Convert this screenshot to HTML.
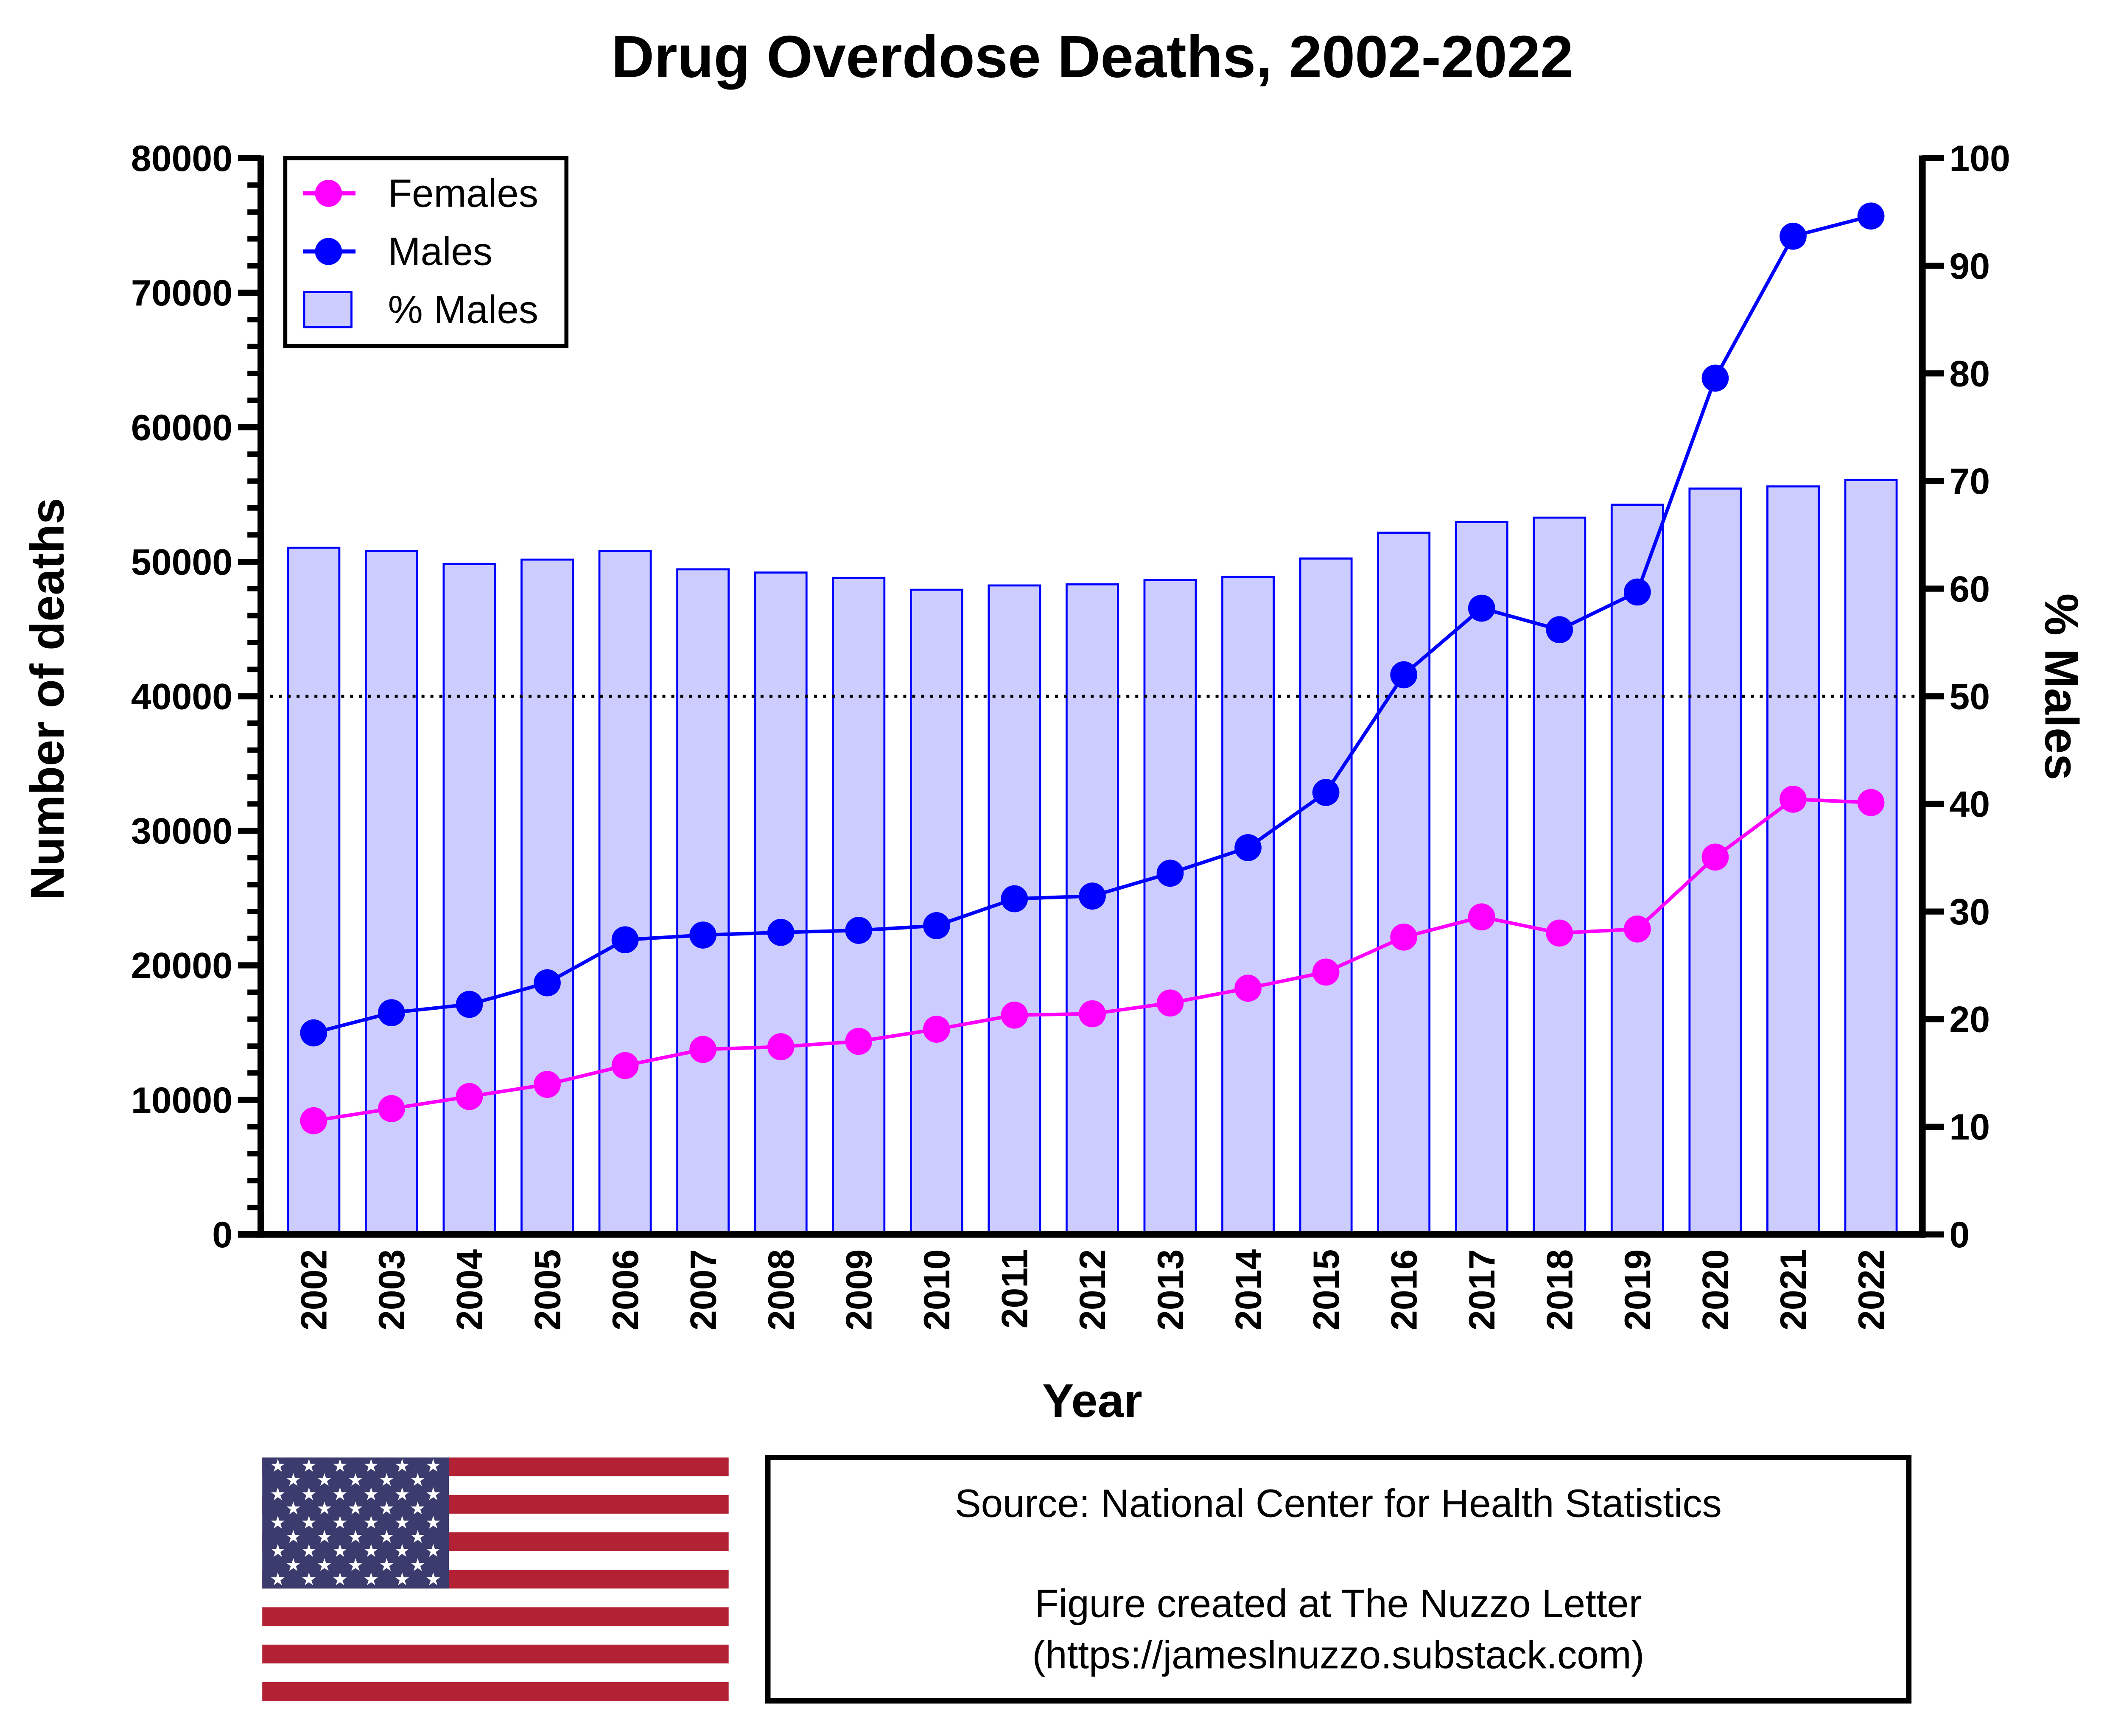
<!DOCTYPE html>
<html><head><meta charset="utf-8"><style>
html,body{margin:0;padding:0;background:#fff;}
svg{display:block;font-family:"Liberation Sans",Arial,sans-serif;}
</style></head><body>
<svg id="chart" width="5067" height="4092" viewBox="0 0 1590 1284" preserveAspectRatio="none" xmlns="http://www.w3.org/2000/svg">
<rect x="0" y="0" width="1590" height="1284" fill="#fff"/>
<text x="808" y="57" text-anchor="middle" font-size="44" font-weight="bold">Drug Overdose Deaths, 2002-2022</text>
<g id="bars"></g>
<line x1="193" y1="515" x2="1422" y2="515" stroke="#000" stroke-width="2.2" stroke-dasharray="2.2,4.4"/>
<g id="lines"></g>
<g id="axes"></g>
<text transform="translate(47,517) rotate(-90)" text-anchor="middle" font-size="35" font-weight="bold">Number of deaths</text>
<text transform="translate(1513,508) rotate(90)" text-anchor="middle" font-size="35" font-weight="bold">% Males</text>
<text x="808" y="1048" text-anchor="middle" font-size="35" font-weight="bold">Year</text>
<g>
<rect x="211" y="117" width="208" height="139" fill="#fff" stroke="#000" stroke-width="3"/>
<line x1="224" y1="143" x2="263" y2="143" stroke="#ff00ff" stroke-width="3"/>
<circle cx="243" cy="143" r="10" fill="#ff00ff"/>
<text x="287" y="153" font-size="29">Females</text>
<line x1="224" y1="186" x2="263" y2="186" stroke="#0000ff" stroke-width="3"/>
<circle cx="243" cy="186" r="10" fill="#0000ff"/>
<text x="287" y="196" font-size="29">Males</text>
<rect x="225" y="216" width="35" height="26" fill="#ccccff" stroke="#0000ff" stroke-width="1.5"/>
<text x="287" y="239" font-size="29">% Males</text>
</g>
<g id="flag"></g>
<g>
<rect x="568" y="1078" width="844" height="180" fill="#fff" stroke="#000" stroke-width="4"/>
<text x="990" y="1122" text-anchor="middle" font-size="29">Source: National Center for Health Statistics</text>
<text x="990" y="1196" text-anchor="middle" font-size="29">Figure created at The Nuzzo Letter</text>
<text x="990" y="1234" text-anchor="middle" font-size="29">(https://jameslnuzzo.substack.com)</text>
</g>
</svg>
<script>
const years = [2002,2003,2004,2005,2006,2007,2008,2009,2010,2011,2012,2013,2014,2015,2016,2017,2018,2019,2020,2021,2022];
const pctMales = [63.8,63.5,62.3,62.7,63.5,61.8,61.5,61.0,59.9,60.3,60.4,60.8,61.1,62.8,65.2,66.2,66.6,67.8,69.3,69.5,70.1];
const males = [14980,16480,17100,18700,21900,22250,22450,22600,22950,24950,25150,26850,28750,32850,41600,46550,44950,47750,63650,74200,75700];
const females = [8450,9350,10250,11150,12550,13750,13950,14350,15250,16300,16400,17200,18300,19500,22100,23600,22400,22700,28050,32350,32100];
const leftTicks = [0,10000,20000,30000,40000,50000,60000,70000,80000];
const rightTicks = [0,10,20,30,40,50,60,70,80,90,100];

const NS = "http://www.w3.org/2000/svg";
const X0 = 232, DX = 57.6, Y0 = 913, YTOP = 117;
function xPos(i){ return X0 + i*DX; }
function yLeft(v){ return Y0 - (v/80000)*(Y0-YTOP); }
function yRight(v){ return Y0 - (v/100)*(Y0-YTOP); }
function mk(tag, attrs, parent){ const e=document.createElementNS(NS,tag); for(const k in attrs) e.setAttribute(k,attrs[k]); parent.appendChild(e); return e; }

const bars = document.getElementById('bars');
pctMales.forEach((v,i)=>{
  const y = yRight(v);
  const r = mk('rect',{x:xPos(i)-19,y:y,width:38,height:Y0-y,fill:'#ccccff',stroke:'#0000ff','stroke-width':1.5},bars);
  
  
});

const lines = document.getElementById('lines');
function series(vals,color,name){
  const pts = vals.map((v,i)=>xPos(i)+','+yLeft(v)).join(' ');
  const pl = mk('polyline',{points:pts,fill:'none',stroke:color,'stroke-width':2.6},lines);
  
  
  vals.forEach((v,i)=>{
    const c = mk('circle',{cx:xPos(i),cy:yLeft(v),r:10,fill:color},lines);
    
    
  });
}
series(females,'#ff00ff','females');
series(males,'#0000ff','males');

const axes = document.getElementById('axes');
let a = mk('line',{x1:193,y1:YTOP-2,x2:193,y2:Y0+2.5,stroke:'#000','stroke-width':5},axes);


a = mk('line',{x1:1422,y1:YTOP-2,x2:1422,y2:Y0+2.5,stroke:'#000','stroke-width':5},axes);


a = mk('line',{x1:176,y1:Y0,x2:1424,y2:Y0,stroke:'#000','stroke-width':5},axes);


for(let v=0; v<=80000; v+=2000){
  const major = v%10000===0;
  const t = mk('line',{x1:major?176:183,y1:yLeft(v),x2:193,y2:yLeft(v),stroke:'#000','stroke-width':major?4.5:4},axes);
  
  
}
leftTicks.forEach(v=>{
  const t = mk('text',{x:172,y:yLeft(v)+9.5,'text-anchor':'end','font-size':27,'font-weight':'bold'},axes);
  t.textContent = v;
  
  
});
rightTicks.forEach(v=>{
  const l = mk('line',{x1:1422,y1:yRight(v),x2:1438,y2:yRight(v),stroke:'#000','stroke-width':4.5},axes);
  
  
  const t = mk('text',{x:1442,y:yRight(v)+9.5,'font-size':27,'font-weight':'bold'},axes);
  t.textContent = v;
  
  
});
years.forEach((yr,i)=>{
  const t = mk('text',{transform:'translate('+(xPos(i)+9.5)+',924) rotate(-90)','text-anchor':'end','font-size':27,'font-weight':'bold'},axes);
  t.textContent = yr;
  
  
});

const flag = document.getElementById('flag');
const fx=194, fy=1078, fw=345, fh=180, sh=fh/13;
for(let s=0;s<13;s++){
  const r = mk('rect',{x:fx,y:fy+s*sh,width:fw,height:sh+0.3,fill:s%2===0?'#b22234':'#ffffff'},flag);
  
  
}
const cw=138, ch=sh*7;
const cn = mk('rect',{x:fx,y:fy,width:cw,height:ch,fill:'#3c3b6e'},flag);


for(let row=0;row<9;row++){
  const n = row%2===0?6:5;
  for(let c=0;c<n;c++){
    const sx = fx + 11.5 + c*23 + (row%2===0?0:11.5);
    const sy = fy + 5.5 + row*10.5;
    const st = mk('text',{x:sx,y:sy+5,'text-anchor':'middle','font-size':13,fill:'#fff','font-family':'DejaVu Sans, sans-serif'},flag);
    st.textContent = '★';
    
    
  }
}
</script>
</body></html>
